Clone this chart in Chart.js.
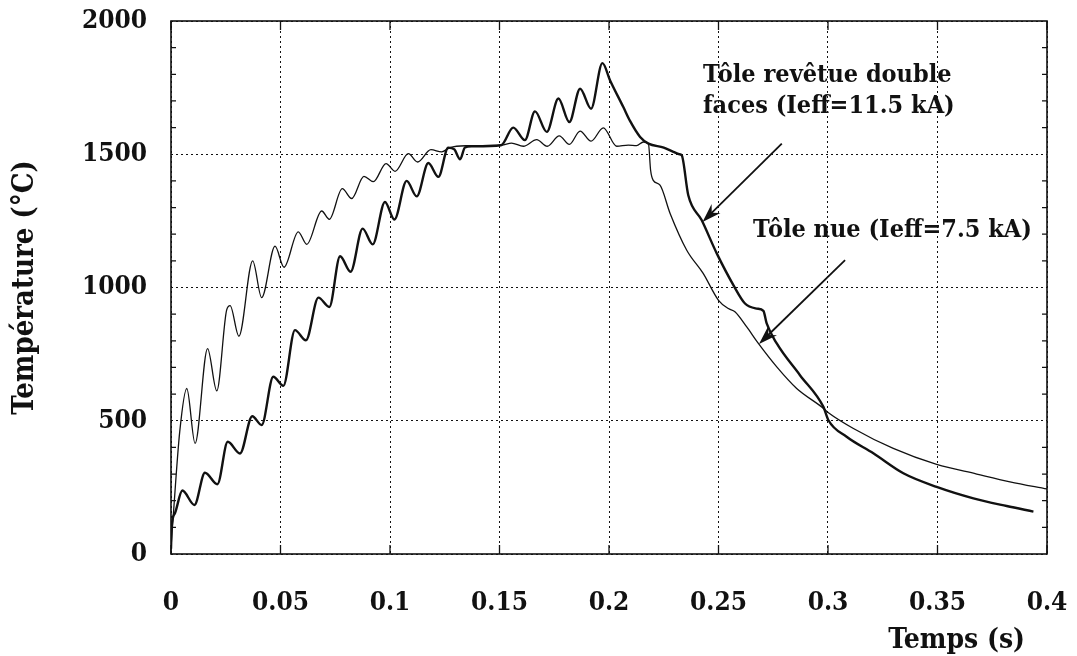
<!DOCTYPE html>
<html>
<head>
<meta charset="utf-8">
<script src="https://cdn.jsdelivr.net/npm/chart.js@4.4.1/dist/chart.umd.min.js"></script>
<style>
  body { margin: 0; background: #fff; }
  canvas { display: block; }
</style>
</head>
<body>
<canvas id="tempChart" width="1077" height="656"></canvas>
<script>
// Tôle nue (Ieff=7.5 kA) - thin line
const nueTime = [0, 0.001, 0.004, 0.0072, 0.011, 0.0167, 0.0209, 0.0254, 0.027, 0.031,
  0.0373, 0.0414, 0.0475, 0.0516, 0.0581, 0.062, 0.0688, 0.0723, 0.0782, 0.0825,
  0.0881, 0.0924, 0.0982, 0.1023, 0.1084, 0.1126, 0.1187, 0.1236, 0.1274, 0.135,
  0.151, 0.1555, 0.1609, 0.167, 0.1718, 0.1773, 0.1819, 0.1868, 0.1918, 0.1974,
  0.2035, 0.2088, 0.2126, 0.2157, 0.218, 0.219, 0.2202, 0.2233, 0.2279, 0.2355,
  0.243, 0.25, 0.2545, 0.2575, 0.2629, 0.2682, 0.2766, 0.2857, 0.2971, 0.3002,
  0.3116, 0.3298, 0.3496, 0.3679, 0.3831, 0.4];
const nueTemp = [25, 140, 460, 621, 415, 771, 612, 915, 932, 817,
  1100, 962, 1155, 1076, 1209, 1162, 1287, 1256, 1371, 1334,
  1417, 1397, 1465, 1436, 1502, 1471, 1517, 1509, 1525, 1532,
  1534, 1542, 1530, 1555, 1530, 1569, 1537, 1587, 1549, 1599,
  1530, 1534, 1532, 1546, 1540, 1440, 1402, 1384, 1278, 1140,
  1053, 952, 921, 909, 852, 790, 702, 621, 552, 530,
  471, 396, 336, 300, 271, 244];

// Tôle revêtue double faces (Ieff=11.5 kA) - thick line
const revTime = [0, 0.0003, 0.0018, 0.0052, 0.0107, 0.0155, 0.0212, 0.0259, 0.0315, 0.0371,
  0.0414, 0.0467, 0.0513, 0.0566, 0.0616, 0.0673, 0.0723, 0.0772, 0.082, 0.0875,
  0.0921, 0.0977, 0.102, 0.1076, 0.1122, 0.1175, 0.1221, 0.1266, 0.1294, 0.132,
  0.1342, 0.1373, 0.1507, 0.1563, 0.1616, 0.1662, 0.1716, 0.1769, 0.1819, 0.1868,
  0.1918, 0.197, 0.2005, 0.2066, 0.2096, 0.2142, 0.218, 0.225, 0.2294, 0.2321,
  0.2332, 0.2362, 0.2423, 0.2492, 0.2568, 0.2621, 0.2674, 0.2705, 0.272, 0.2766,
  0.2872, 0.2979, 0.3002, 0.3085, 0.3207, 0.3344, 0.3496, 0.3664, 0.3816, 0.3938];
const revTemp = [20, 102, 153, 238, 184, 305, 262, 421, 377, 517,
  484, 665, 631, 840, 802, 962, 927, 1117, 1059, 1221,
  1162, 1321, 1255, 1400, 1342, 1467, 1415, 1525, 1518, 1481,
  1525, 1530, 1534, 1600, 1553, 1661, 1584, 1709, 1621, 1746,
  1671, 1842, 1777, 1676, 1625, 1565, 1540, 1525, 1509, 1500,
  1496, 1346, 1253, 1128, 1009, 940, 921, 912, 865, 790,
  671, 552, 502, 440, 378, 303, 252, 209, 180, 159];

const xTickLabels = ['0', '0.05', '0.1', '0.15', '0.2', '0.25', '0.3', '0.35', '0.4'];
const yTickLabels = ['0', '500', '1000', '1500', '2000'];
const yMinorTicks = [100, 200, 300, 400, 600, 700, 800, 900, 1100, 1200, 1300, 1400, 1600, 1700, 1800, 1900];

const serif = "'DejaVu Serif Condensed', 'DejaVu Serif', serif";
const ink = '#111';

function toPoints(xs, ys) {
  return xs.map((x, i) => ({ x: x, y: ys[i] }));
}

// arrows + labels, drawn in data space
const annotations = {
  labels: [
    { text: 'Tôle revêtue double', t: 0.2429, v: 1770 },
    { text: 'faces (Ieff=11.5 kA)', t: 0.2429, v: 1654 },
    { text: 'Tôle nue (Ieff=7.5 kA)', t: 0.2658, v: 1189 }
  ],
  arrows: [
    { from: [0.2789, 1540], to: [0.2427, 1246] },
    { from: [0.3078, 1103], to: [0.2685, 788] }
  ]
};

const framePlugin = {
  id: 'frame',
  afterDraw(chart) {
    const { ctx, chartArea: a, scales: { x, y } } = chart;
    ctx.save();
    ctx.strokeStyle = ink;
    ctx.fillStyle = ink;

    // frame
    ctx.lineWidth = 1.6;
    ctx.strokeRect(a.left, a.top, a.right - a.left, a.bottom - a.top);

    // inward ticks
    ctx.lineWidth = 1.3;
    ctx.beginPath();
    x.ticks.forEach(tk => {
      const px = x.getPixelForValue(tk.value);
      ctx.moveTo(px, a.bottom); ctx.lineTo(px, a.bottom - 9);
      ctx.moveTo(px, a.top); ctx.lineTo(px, a.top + 9);
    });
    yMinorTicks.forEach(v => {
      const py = y.getPixelForValue(v);
      ctx.moveTo(a.left, py); ctx.lineTo(a.left + 5, py);
      ctx.moveTo(a.right, py); ctx.lineTo(a.right - 5, py);
    });
    ctx.stroke();

    // annotation text
    ctx.font = 'bold 25px ' + serif;
    ctx.textAlign = 'left';
    ctx.textBaseline = 'alphabetic';
    annotations.labels.forEach(l => {
      ctx.fillText(l.text, x.getPixelForValue(l.t), y.getPixelForValue(l.v));
    });

    // arrows
    annotations.arrows.forEach(ar => {
      const x0 = x.getPixelForValue(ar.from[0]), y0 = y.getPixelForValue(ar.from[1]);
      const x1 = x.getPixelForValue(ar.to[0]), y1 = y.getPixelForValue(ar.to[1]);
      const ang = Math.atan2(y1 - y0, x1 - x0);
      ctx.lineWidth = 1.8;
      ctx.beginPath();
      ctx.moveTo(x0, y0);
      ctx.lineTo(x1 - 10 * Math.cos(ang), y1 - 10 * Math.sin(ang));
      ctx.stroke();
      const len = 20, half = 0.32;
      ctx.beginPath();
      ctx.moveTo(x1, y1);
      ctx.lineTo(x1 - len * Math.cos(ang - half), y1 - len * Math.sin(ang - half));
      ctx.lineTo(x1 - 13 * Math.cos(ang), y1 - 13 * Math.sin(ang));
      ctx.lineTo(x1 - len * Math.cos(ang + half), y1 - len * Math.sin(ang + half));
      ctx.closePath();
      ctx.fill();
    });

    // x axis title, right side under the ticks
    ctx.font = 'bold 28px ' + serif;
    ctx.textAlign = 'right';
    ctx.fillText('Temps (s)', a.right - 22, a.bottom + 94);
    ctx.restore();
  }
};

const ctx = document.getElementById('tempChart').getContext('2d');

const tempChart = new Chart(ctx, {
  type: 'line',
  data: {
    datasets: [
      {
        label: 'Tôle revêtue double faces (Ieff=11.5 kA)',
        data: toPoints(revTime, revTemp),
        borderColor: ink,
        borderWidth: 2.4,
        pointRadius: 0,
        cubicInterpolationMode: 'monotone',
        fill: false
      },
      {
        label: 'Tôle nue (Ieff=7.5 kA)',
        data: toPoints(nueTime, nueTemp),
        borderColor: ink,
        borderWidth: 1.3,
        pointRadius: 0,
        cubicInterpolationMode: 'monotone',
        fill: false
      }
    ]
  },
  options: {
    responsive: false,
    animation: false,
    layout: { padding: { left: 0, top: 21, right: 30, bottom: 0 } },
    plugins: {
      legend: { display: false },
      tooltip: { enabled: false }
    },
    scales: {
      x: {
        type: 'linear',
        min: 0,
        max: 0.4,
        afterFit: s => { s.height = 102; s.paddingLeft = 0; s.paddingRight = 0; },
        border: { display: false, dash: [2, 3] },
        grid: { color: ink, lineWidth: 1, drawTicks: false },
        ticks: {
          stepSize: 0.05,
          padding: 34,
          color: ink,
          maxRotation: 0,
          font: { family: serif, size: 26, weight: 'bold' },
          callback: (v, i) => xTickLabels[i]
        }
      },
      y: {
        min: 0,
        max: 2000,
        afterFit: s => { s.width = 171; s.paddingTop = 0; s.paddingBottom = 0; },
        border: { display: false, dash: [2, 3] },
        grid: { color: ink, lineWidth: 1, drawTicks: false },
        ticks: {
          stepSize: 500,
          padding: 24,
          color: ink,
          font: { family: serif, size: 26, weight: 'bold' },
          callback: (v, i) => yTickLabels[i]
        },
        title: {
          display: true,
          text: 'Température (°C)',
          color: ink,
          padding: { top: 8, bottom: 0 },
          font: { family: serif, size: 29, weight: 'bold' }
        }
      }
    }
  },
  plugins: [framePlugin]
});
</script>
</body>
</html>
